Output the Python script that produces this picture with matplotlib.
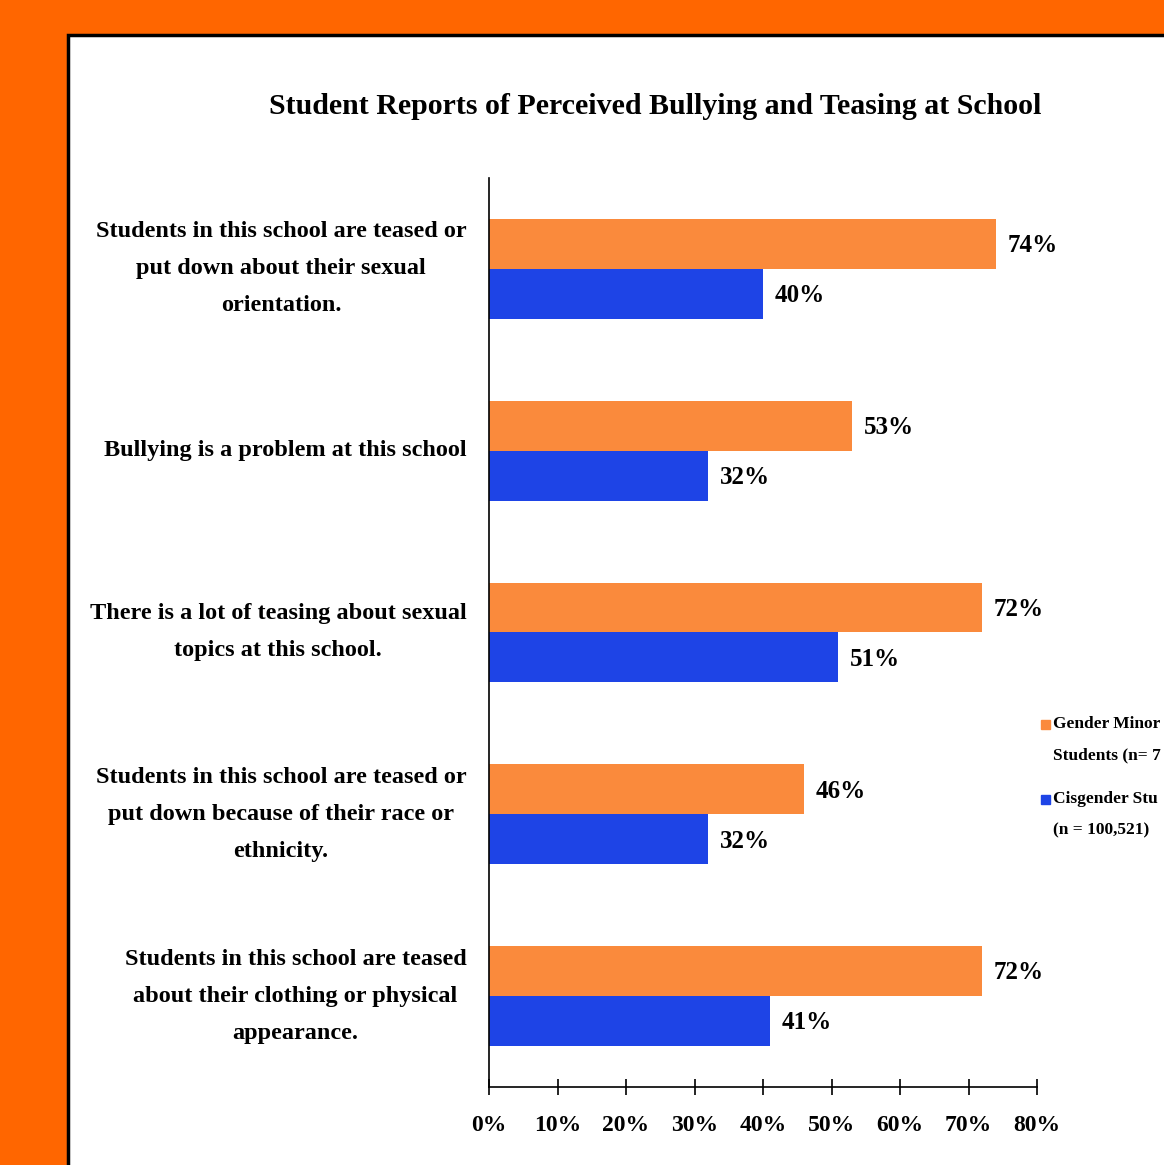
import matplotlib
matplotlib.use('Agg')
import matplotlib.pyplot as plt
from matplotlib.patches import Rectangle
import numpy as np

# data
categories = [
    'Students in this school are teased or\nput down about their sexual\norientation.',
    'Bullying is a problem at this school',
    'There is a lot of teasing about sexual\ntopics at this school.',
    'Students in this school are teased or\nput down because of their race or\nethnicity.',
    'Students in this school are teased\nabout their clothing or physical\nappearance.',
]
gender_minority = [74, 53, 72, 46, 72]
cisgender = [40, 32, 51, 32, 41]
series_labels = ['Gender Minor\nStudents (n= 7', 'Cisgender Stu\n(n = 100,521)']
xticks = [0, 10, 20, 30, 40, 50, 60, 70, 80]

orange = '#FA8A3C'
blue = '#1E44E6'

plt.rcParams['font.family'] = ['Liberation Serif', 'DejaVu Serif']
plt.rcParams['font.weight'] = 'bold'

W, H = 1164, 1165
fig = plt.figure(figsize=(W/100, H/100), dpi=100)
fig.patch.set_facecolor('#FF6600')

# white panel with black border
panel = Rectangle((68/W, -0.05), 1.0, 1 - 35/H + 0.05, transform=fig.transFigure,
                  facecolor='white', edgecolor='black', linewidth=2.5, zorder=-10)
fig.patches.append(panel)

ax = fig.add_axes([489/W, 1 - 1087/H, 548/W, 909/H])
ax.set_facecolor('none')
ax.set_zorder(2)

y = np.arange(len(categories))
h = 0.275
b1 = ax.barh(y - h/2, gender_minority, height=h, color=orange)
b2 = ax.barh(y + h/2, cisgender, height=h, color=blue)

for bars, vals in [(b1, gender_minority), (b2, cisgender)]:
    for bar, v in zip(bars, vals):
        ax.text(v + 1.7, bar.get_y() + bar.get_height()/2 + 0.01, f'{v}%',
                va='center', ha='left', fontsize=18, fontweight='bold')

ax.set_ylim(len(categories) - 0.5, -0.5)
ax.set_xlim(0, 80)
ax.set_xticks(xticks)
ax.set_xticklabels([f'{t}%' for t in xticks], fontsize=17, fontweight='bold')
ax.tick_params(axis='x', direction='inout', length=12, width=1.2, pad=14)
ax.set_yticks([])

for s in ['top', 'right']:
    ax.spines[s].set_visible(False)
for s in ['left', 'bottom']:
    ax.spines[s].set_linewidth(1.2)
    ax.spines[s].set_color('black')

# category labels, right aligned block, centred lines
for i, c in enumerate(categories):
    ax.text(-3.3, i, c, transform=ax.transData, ha='right', va='center',
            multialignment='center', fontsize=17.5, fontweight='bold', linespacing=2.0)

fig.text(655/W, 1 - 107/H, 'Student Reports of Perceived Bullying and Teasing at School',
         ha='center', va='center', fontsize=21.5, fontweight='bold')

# legend drawn by hand: square beside the first line of each label
for k, (lab, col) in enumerate(zip(series_labels, [orange, blue])):
    y0 = 724 + k * 75
    fig.patches.append(Rectangle((1041/W, 1 - (y0 + 5)/H), 9/W, 9/H,
                                 transform=fig.transFigure, color=col))
    for j, line in enumerate(lab.split('\n')):
        fig.text(1053/W, 1 - (y0 + j * 31)/H, line, ha='left', va='center',
                 fontsize=12.5, fontweight='bold')

fig.savefig('out.png', dpi=100, facecolor=fig.get_facecolor())
